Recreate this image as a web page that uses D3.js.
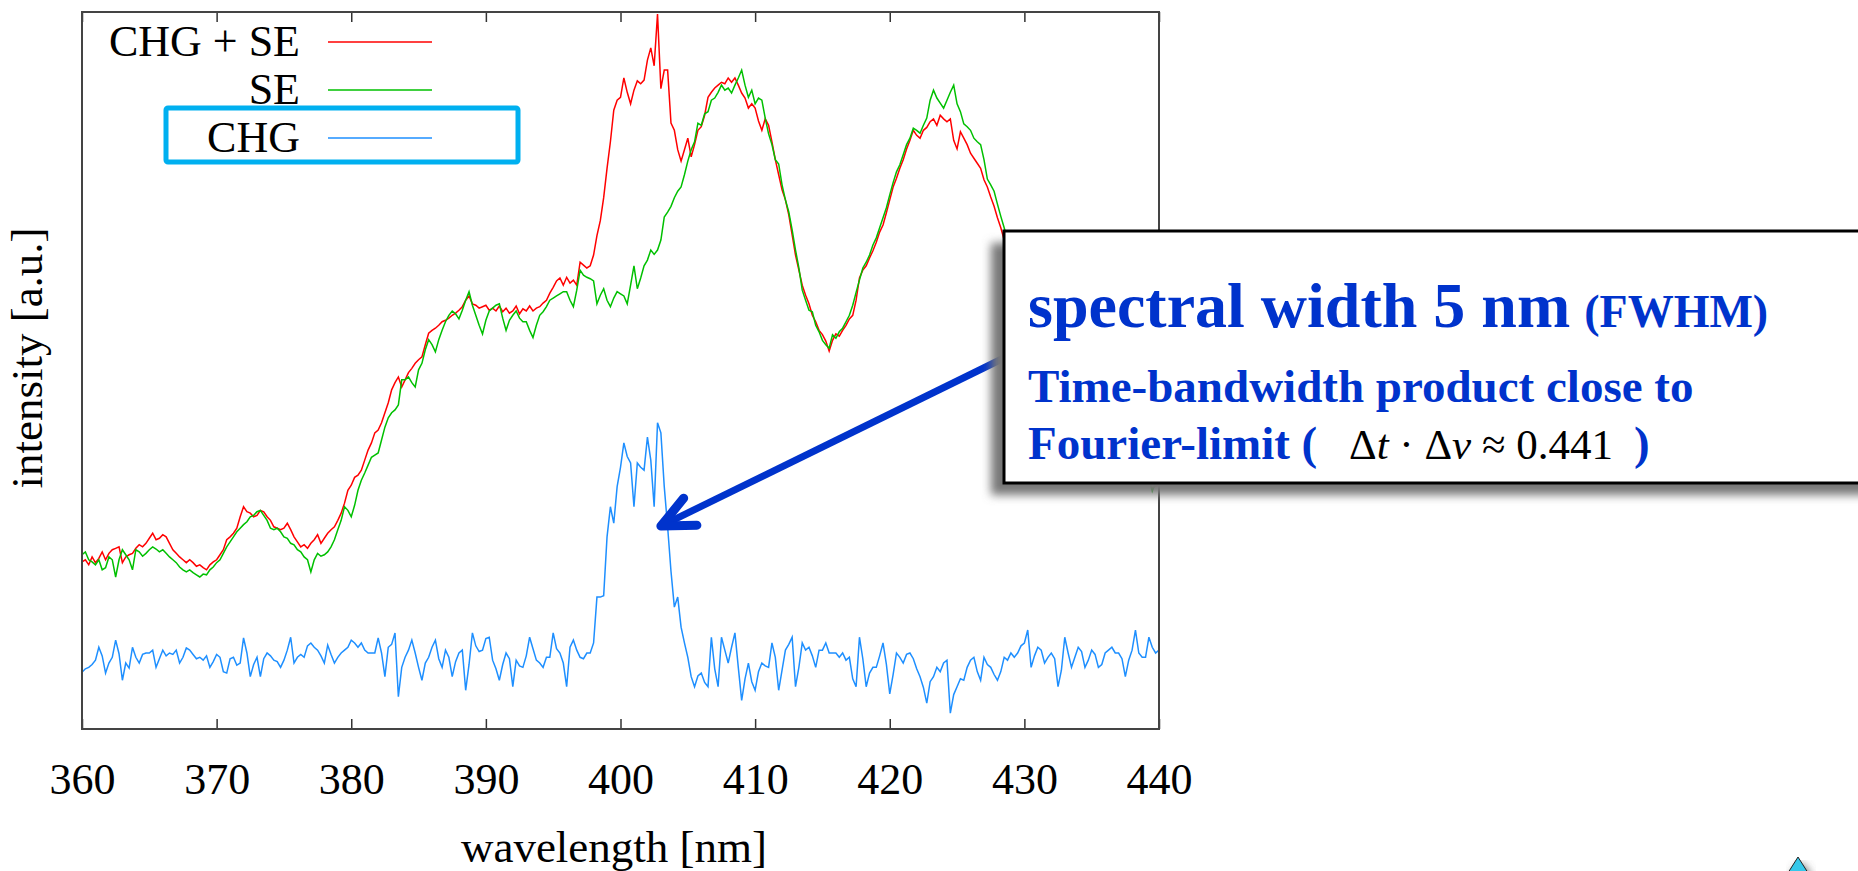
<!DOCTYPE html>
<meta charset="utf-8">
<script src="https://d3js.org/d3.v7.min.js"></script>
<style>
  body { margin: 0; background: #fff; }
  text { font-family: "Liberation Serif", "Times New Roman", serif; }
</style>
<body>
<div id="chart"></div>
<script>

// spectra sampled every 0.25 nm from 360 to 440 nm, intensity in arbitrary units (0..100 = plot height)
const startNm = 360, stepNm = 0.25;
const seriesNames = ["CHG + SE", "SE", "CHG"];
const seriesColors = ["#ff0000", "#00c000", "#1e8fff"];
const xTicks = [360, 370, 380, 390, 400, 410, 420, 430, 440];

const chgSe = [
  23.3, 23.6, 22.9, 24.0,  23.2, 23.8, 24.7, 23.6,  24.5, 25.0, 25.2, 25.4,  23.2, 24.0, 24.3, 24.5,  // 360-363
  25.2, 25.7, 25.4, 25.9,  26.6, 27.3, 26.4, 26.6,  27.1, 26.8, 25.9, 25.0,  24.5, 24.0, 23.6, 23.2,  // 364-367
  23.6, 23.2, 22.7, 22.9,  22.5, 22.2, 22.9, 23.3,  23.6, 24.3, 25.0, 26.4,  26.8, 27.3, 28.0, 29.6,  // 368-371
  31.0, 30.3, 30.1, 29.6,  29.8, 30.5, 30.3, 29.6,  29.1, 28.2, 28.0, 27.8,  28.0, 28.7, 27.8, 26.8,  // 372-375
  26.1, 25.4, 25.7, 25.2,  25.9, 26.4, 27.1, 25.9,  26.6, 27.3, 27.8, 28.2,  29.1, 30.1, 31.5, 33.3,  // 376-379
  34.0, 35.1, 35.4, 36.1,  37.5, 38.9, 39.9, 41.3,  41.7, 42.7, 44.1, 45.5,  47.3, 48.3, 49.1, 47.7,  // 380-383
  48.7, 49.7, 50.3, 51.0,  51.5, 51.9, 53.6, 55.2,  55.6, 55.9, 56.3, 56.8,  57.0, 57.3, 57.7, 58.0,  // 384-387
  58.4, 58.9, 59.8, 60.4,  59.3, 59.1, 58.7, 58.9,  59.1, 58.4, 58.7, 58.3,  59.0, 58.2, 58.7, 58.0,  // 388-391
  58.3, 59.0, 57.9, 58.6,  58.3, 59.0, 58.3, 58.7,  58.9, 59.4, 59.8, 60.8,  61.6, 62.5, 62.9, 61.9,  // 392-395
  63.0, 62.2, 62.6, 61.9,  65.1, 64.7, 64.3, 64.6,  66.1, 68.8, 70.9, 74.1,  78.2, 81.9, 86.3, 87.7,  // 396-399
  88.1, 90.8, 88.8, 87.2,  89.1, 90.4, 90.0, 90.5,  93.3, 95.0, 92.5, 99.7,  89.3, 91.9, 91.9, 84.5,  // 400-403
  83.5, 80.8, 79.2, 80.8,  82.4, 79.8, 81.5, 83.5,  84.0, 85.6, 88.1, 88.8,  89.4, 89.8, 90.2, 90.0,  // 404-407
  90.8, 90.2, 90.8, 89.8,  88.7, 88.0, 86.6, 87.2,  86.6, 84.8, 83.5, 85.1,  84.2, 81.9, 79.4, 77.3,  // 408-411
  75.2, 73.8, 71.7, 68.9,  66.1, 64.0, 61.9, 60.5,  59.3, 57.7, 56.8, 55.6,  55.0, 54.1, 52.7, 54.2,  // 412-415
  55.1, 54.8, 55.6, 56.3,  57.2, 57.7, 59.8, 62.9,  64.0, 64.6, 65.7, 66.7,  67.9, 69.3, 70.3, 72.0,  // 416-419
  73.8, 75.6, 76.8, 78.2,  79.4, 80.9, 82.1, 83.5,  82.8, 82.4, 83.5, 83.9,  84.7, 85.1, 84.2, 85.6,  // 420-423
  85.1, 84.7, 85.1, 82.1,  80.9, 83.3, 82.4, 81.5,  80.3, 79.6, 78.9, 78.2,  76.6, 75.6, 74.2, 72.9,  // 424-427
  71.3, 69.9, 68.2, 66.8,  65.4, 64.3, 63.3, 62.2,  61.2, 60.3, 59.1, 58.2,  57.0, 55.9, 55.0, 53.8,  // 428-431
  52.9, 51.9, 51.0, 50.2,  49.4, 48.5, 47.6, 46.7,  45.9, 45.2, 44.5, 43.8,  43.1, 42.4, 41.7, 41.0,  // 432-435
  40.3, 39.8, 39.2, 38.8,  38.2, 38.0, 37.5, 37.2,  36.8, 36.4, 36.0, 35.4,  35.0, 34.4, 33.6, 33.9,  // 436-439
  34.0
];

const se = [
  24.3, 24.7, 23.6, 23.3,  22.9, 23.6, 22.2, 22.5,  24.0, 23.6, 21.2, 23.6,  25.0, 24.3, 23.6, 22.2,  // 360-363
  25.0, 24.7, 24.1, 24.5,  25.0, 25.4, 25.1, 24.7,  25.0, 24.5, 24.0, 23.6,  23.2, 22.6, 22.2, 21.9,  // 364-367
  22.2, 21.8, 21.5, 21.2,  21.6, 21.5, 22.2, 22.6,  23.2, 23.6, 24.5, 25.4,  26.1, 26.8, 27.5, 28.0,  // 368-371
  28.5, 28.9, 29.6, 29.8,  30.3, 30.5, 29.8, 29.1,  28.0, 27.8, 28.0, 27.5,  26.8, 26.6, 25.9, 25.7,  // 372-375
  25.0, 24.7, 24.0, 23.6,  21.9, 23.6, 24.5, 24.1,  24.3, 24.7, 25.4, 26.4,  27.8, 29.1, 31.0, 30.5,  // 376-379
  29.6, 31.2, 33.3, 34.7,  35.7, 36.8, 37.9, 38.2,  38.5, 40.3, 42.1, 43.4,  44.1, 44.5, 45.2, 48.7,  // 380-383
  48.7, 49.1, 48.3, 47.7,  50.1, 51.0, 52.9, 54.3,  53.6, 52.6, 54.3, 55.6,  56.8, 57.7, 58.3, 57.9,  // 384-387
  57.2, 58.4, 59.8, 61.0,  59.1, 57.7, 56.3, 55.1,  57.0, 58.3, 58.7, 59.1,  59.3, 57.3, 55.6, 57.0,  // 388-391
  57.7, 58.3, 57.3, 56.8,  56.8, 55.6, 54.6, 56.3,  57.7, 58.2, 58.9, 59.8,  60.1, 60.4, 60.7, 61.0,  // 392-395
  61.0, 59.8, 58.9, 61.2,  64.0, 63.3, 63.0, 62.8,  62.5, 59.3, 60.5, 61.4,  59.8, 58.9, 60.1, 61.0,  // 396-399
  60.7, 60.4, 59.3, 61.9,  64.6, 61.4, 62.9, 64.6,  65.4, 66.8, 66.2, 66.8,  68.2, 71.4, 72.1, 72.9,  // 400-403
  74.1, 75.0, 75.6, 77.3,  79.2, 80.8, 81.9, 84.5,  84.2, 85.8, 86.1, 87.7,  88.0, 88.8, 89.8, 89.1,  // 404-407
  89.4, 88.7, 89.8, 90.8,  91.9, 89.8, 88.1, 89.1,  87.2, 88.0, 87.7, 85.2,  83.0, 81.5, 79.4, 78.8,  // 408-411
  75.9, 73.8, 72.1, 69.6,  66.8, 64.3, 61.2, 59.8,  58.4, 58.2, 56.3, 55.4,  54.2, 53.6, 53.1, 55.0,  // 412-415
  54.5, 55.4, 55.9, 56.8,  57.7, 59.1, 60.9, 62.6,  64.3, 65.1, 66.1, 67.5,  68.5, 69.9, 71.3, 72.7,  // 416-419
  74.5, 76.2, 77.7, 78.7,  80.1, 81.5, 82.4, 83.8,  83.5, 83.1, 84.2, 85.2,  87.7, 89.1, 88.0, 87.3,  // 420-423
  86.6, 87.7, 88.8, 89.8,  87.2, 86.1, 84.4, 84.0,  83.5, 82.4, 81.9, 81.5,  79.4, 76.7, 75.9, 75.0,  // 424-427
  73.2, 71.5, 69.9, 68.2,  66.8, 65.6, 64.6, 63.4,  62.5, 61.5, 60.4, 59.3,  58.1, 57.2, 56.0, 54.9,  // 428-431
  53.9, 52.8, 52.1, 51.0,  50.3, 49.4, 48.5, 47.8,  46.9, 46.0, 45.4, 44.6,  43.9, 43.3, 42.5, 41.9,  // 432-435
  41.2, 40.6, 40.0, 39.6,  39.0, 38.7, 38.2, 37.9,  37.4, 37.1, 36.6, 36.2,  35.8, 35.0, 33.2, 34.4,  // 436-439
  34.6
];

const chg = [
   7.9,  8.4,  8.6,  9.0,   9.6, 11.4, 10.2,  7.8,   9.2, 10.0, 12.4, 10.5,   6.8,  9.2,  8.5, 11.4,  // 360-363
  10.0,  9.2, 10.4, 10.6,  10.6, 11.0,  8.6,  9.8,  11.0, 10.2, 10.6, 10.4,  11.0,  9.2, 10.0, 11.3,  // 364-367
  11.0, 10.4,  9.8, 10.0,   9.6, 10.2,  8.6,  9.4,  10.4, 10.0,  8.0,  7.8,   9.8, 10.0,  8.9,  9.2,  // 368-371
  12.7, 10.6,  7.3,  9.0,  10.0,  7.3,  9.8, 10.6,  10.2,  9.6,  9.4,  8.6,   9.6, 11.0, 12.8,  9.2,  // 372-375
  10.0, 10.4, 10.0, 11.6,  12.0, 11.4, 11.0, 10.2,   9.2, 11.7, 10.4,  9.2,  10.0, 10.6, 11.0, 11.4,  // 376-379
  12.4, 12.0, 11.4, 12.0,  11.0, 10.6, 10.6, 10.6,  12.7, 10.6,  7.3, 11.4,  11.8, 13.4,  4.5,  8.6,  // 380-383
  10.0, 11.0, 12.4, 10.6,   8.6,  6.8,  9.2, 10.0,  11.4, 12.4,  9.8,  8.6,  11.0, 10.0,  7.3,  9.4,  // 384-387
  10.6, 11.0,  5.4,  9.0,  13.4, 11.6, 10.8, 11.0,  12.6, 12.8,  9.6,  8.4,   6.8,  9.0, 10.6,  9.8,  // 388-391
   5.9,  9.6,  8.8,  8.6,  10.2, 12.8, 11.2,  9.6,   9.2,  8.6, 10.0, 10.0,  13.4, 11.2, 10.6,  9.2,  // 392-395
   5.9, 11.4, 12.4, 11.0,  10.0,  9.8, 10.6, 10.6,  12.0, 18.4, 18.4, 18.6,  26.8, 31.0, 28.7, 33.8,  // 396-399
  36.5, 39.9, 38.0, 37.1,  31.0, 37.1, 36.5, 36.1,  40.7, 37.5, 31.0, 42.7,  41.3, 33.8, 28.2, 22.0,  // 400-403
  17.0, 18.4, 14.2, 12.0,  10.0,  7.3,  5.9,  7.4,   7.8,  6.5,  5.9, 12.8,   8.4,  5.9, 12.8, 11.0,  // 404-407
   9.2, 11.4, 13.4,  8.6,   4.0,  7.0,  9.2,  6.6,   5.4,  8.0,  9.2,  8.8,   8.6, 12.0, 10.0,  5.4,  // 408-411
   8.2, 11.0, 11.8, 12.8,   5.9,  8.6, 12.0, 11.0,  11.4, 10.2,  8.6, 11.0,  11.0, 12.0, 10.6, 10.6,  // 412-415
  10.6, 10.0, 10.6,  9.6,  10.0,  7.0,  5.9, 12.8,   9.8,  5.9,  7.8,  8.6,   8.6, 10.2, 12.0,  9.0,  // 416-419
   4.9,  7.6, 10.6, 10.0,   9.2, 10.4, 10.6,  9.8,   8.4,  7.3,  5.8,  3.6,   6.6,  7.3,  8.6,  8.0,  // 420-423
   9.2,  9.6,  2.2,  4.8,   5.9,  7.0,  6.8,  8.6,   9.6, 10.0,  8.0,  6.8,  10.0,  9.0,  8.6,  7.6,  // 424-427
   6.8,  8.0, 10.0,  9.6,  10.6, 10.0, 10.6, 11.6,  12.0, 13.8,  8.6, 10.2,  11.4, 11.0,  9.2, 10.0,  // 428-431
  10.6,  9.8,  5.9,  8.2,  12.8, 10.6,  8.6, 10.0,  11.4, 10.8,  8.6,  9.6,  11.0, 10.4,  8.6,  9.0,  // 432-435
  10.6, 11.0, 11.4, 10.6,  10.6,  9.8,  7.3,  9.6,  11.0, 13.8, 10.6, 10.0,  10.0, 12.8, 11.4, 10.6,  // 436-439
  11.0
];

const W = 1858, H = 871;
const plot = {left: 82, right: 1159, top: 12, bottom: 729};

const svg = d3.select("#chart").append("svg")
    .attr("width", W)
    .attr("height", H);

const x = d3.scaleLinear().domain([360, 440]).range([plot.left, plot.right]);
const y = d3.scaleLinear().domain([0, 100]).range([plot.bottom, plot.top]);

svg.append("defs").append("clipPath").attr("id", "plotclip")
  .append("rect")
    .attr("x", plot.left).attr("y", plot.top)
    .attr("width", plot.right - plot.left).attr("height", plot.bottom - plot.top);

// bottom axis, ticks pointing inward
svg.append("g")
    .attr("transform", `translate(0,${plot.bottom})`)
    .call(d3.axisBottom(x).tickValues(xTicks).tickSize(-10).tickPadding(34).tickFormat(d3.format("d")))
    .attr("font-family", "Liberation Serif, serif")
    .attr("font-size", 44)
    .call(g => g.select(".domain").remove())
    .call(g => g.selectAll("line").attr("stroke", "#333").attr("stroke-width", 1.5))
    .call(g => g.selectAll("text").attr("fill", "#000"));

// top axis, ticks only
svg.append("g")
    .attr("transform", `translate(0,${plot.top})`)
    .call(d3.axisTop(x).tickValues(xTicks).tickSize(-10).tickFormat(() => ""))
    .call(g => g.select(".domain").remove())
    .call(g => g.selectAll("line").attr("stroke", "#333").attr("stroke-width", 1.5));

// the three spectra
const seriesData = [chgSe, se, chg];
const line = d3.line()
    .x((d, i) => x(startNm + i * stepNm))
    .y(d => y(d));

svg.append("g").attr("clip-path", "url(#plotclip)")
  .selectAll("path")
  .data(seriesData)
  .join("path")
    .attr("d", line)
    .attr("fill", "none")
    .attr("stroke", (d, i) => seriesColors[i])
    .attr("stroke-width", 1.5)
    .attr("stroke-linejoin", "miter");

// frame
svg.append("rect")
    .attr("x", plot.left).attr("y", plot.top)
    .attr("width", plot.right - plot.left).attr("height", plot.bottom - plot.top)
    .attr("fill", "none")
    .attr("stroke", "#444")
    .attr("stroke-width", 2);

// legend
const legend = svg.append("g");
seriesNames.forEach((name, i) => {
  const ly = 42 + i * 48;
  legend.append("text")
      .attr("x", 300).attr("y", ly + 14)
      .attr("text-anchor", "end")
      .attr("font-size", 44)
      .text(name);
  legend.append("line")
      .attr("x1", 328).attr("x2", 432)
      .attr("y1", ly).attr("y2", ly)
      .attr("stroke", seriesColors[i])
      .attr("stroke-width", 1.5);
});
legend.append("rect") // highlight around CHG
    .attr("x", 166).attr("y", 108)
    .attr("width", 352).attr("height", 54)
    .attr("rx", 2)
    .attr("fill", "none")
    .attr("stroke", "#00b0f0")
    .attr("stroke-width", 5);

// axis titles
svg.append("text")
    .attr("x", 614).attr("y", 862)
    .attr("text-anchor", "middle")
    .attr("font-size", 45)
    .text("wavelength [nm]");

svg.append("text")
    .attr("transform", "translate(42,358) rotate(-90)")
    .attr("text-anchor", "middle")
    .attr("font-size", 45)
    .text("intensity [a.u.]");

// arrow pointing at the CHG peak
const arrowColor = "#0033cc";
const tip = [x(403.0), y(28.3)];
const tail = [1006, 357];
const ang = Math.atan2(tail[1] - tip[1], tail[0] - tip[0]);
const headLen = 36, spread = 0.43;
const arm1 = [tip[0] + headLen * Math.cos(ang - spread), tip[1] + headLen * Math.sin(ang - spread)];
const arm2 = [tip[0] + headLen * Math.cos(ang + spread), tip[1] + headLen * Math.sin(ang + spread)];

svg.append("path")
    .attr("d", `M${tail}L${tip}`)
    .attr("stroke", arrowColor)
    .attr("stroke-width", 7)
    .attr("fill", "none");
svg.append("path")
    .attr("d", `M${arm1}L${tip}L${arm2}`)
    .attr("stroke", arrowColor)
    .attr("stroke-width", 9)
    .attr("stroke-linecap", "round")
    .attr("stroke-linejoin", "round")
    .attr("fill", "none");

// annotation box with drop shadow
const box = {x: 1004, y: 231, w: 900, h: 252};
svg.select("defs").append("filter").attr("id", "blur")
  .append("feGaussianBlur").attr("stdDeviation", 5);

svg.append("rect")
    .attr("x", box.x - 13).attr("y", box.y + 12)
    .attr("width", box.w).attr("height", box.h)
    .attr("fill", "#777")
    .attr("filter", "url(#blur)");
svg.append("rect")
    .attr("x", box.x).attr("y", box.y)
    .attr("width", box.w).attr("height", box.h)
    .attr("fill", "#fff")
    .attr("stroke", "#000")
    .attr("stroke-width", 3);

const note = svg.append("g")
    .attr("fill", arrowColor)
    .attr("font-weight", "bold");

const l1 = note.append("text").attr("x", 1028).attr("y", 327).attr("font-size", 64);
l1.append("tspan").text("spectral width 5 nm");
l1.append("tspan").attr("dx", 14).attr("font-size", 46).text("(FWHM)");

note.append("text")
    .attr("x", 1028).attr("y", 402)
    .attr("font-size", 47)
    .text("Time-bandwidth product close to");

const l3 = note.append("text").attr("x", 1028).attr("y", 459).attr("font-size", 47);
l3.append("tspan").text("Fourier-limit (");
const m = l3.append("tspan").attr("x", 1349).attr("fill", "#000").attr("font-weight", "normal").attr("font-size", 43);
m.append("tspan").text("\u0394");
m.append("tspan").attr("font-style", "italic").text("t");
m.append("tspan").text(" \u00b7 \u0394");
m.append("tspan").attr("font-style", "italic").text("\u03bd");
m.append("tspan").text(" \u2248 0.441");
l3.append("tspan").attr("x", 1634).text(")");

// small navigation triangle in the corner
svg.append("path")
    .attr("d", "M1801,862L1813,880L1789,880Z")
    .attr("fill", "#555")
    .attr("filter", "url(#blur)");
svg.append("path")
    .attr("d", "M1798,857L1810,876L1786,876Z")
    .attr("fill", "#35c8ea")
    .attr("stroke", "#222")
    .attr("stroke-width", 1);

</script>
</body>
